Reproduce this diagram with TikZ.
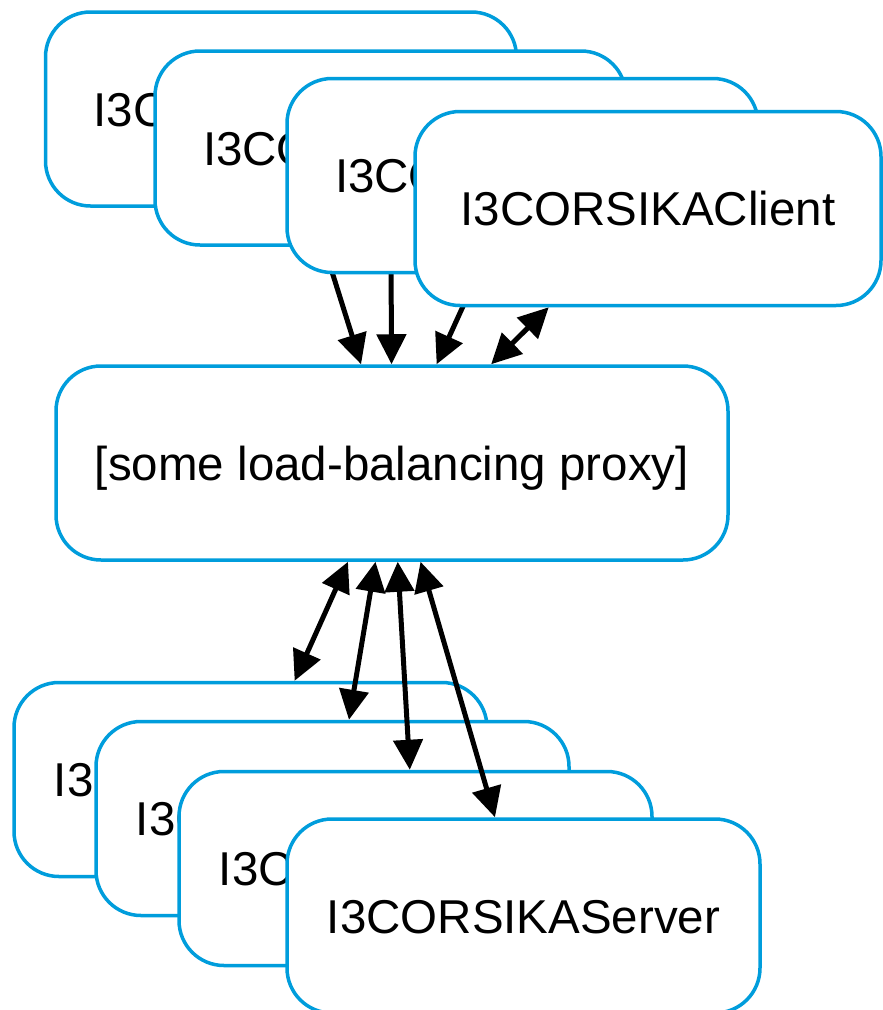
\documentclass[tikz,border=0pt]{standalone}
\usepackage{fontspec}
\setmainfont{Liberation Sans}
\usetikzlibrary{arrows.meta}
\pgfdeclarelayer{under}
\pgfsetlayers{under,main}
\definecolor{boxblue}{RGB}{0,157,220}
\begin{document}
\begin{tikzpicture}[x=1pt,y=-1pt,
  box/.style={draw=boxblue, line width=3.5pt, fill=white, rounded corners=45pt,
    minimum width=471pt, minimum height=194pt, inner sep=0pt,
    text height=34pt, text depth=0pt, font=\fontsize{47.5}{57}\selectfont},
  link/.style={line width=5pt, -{Triangle[length=30pt,width=29pt]}},
  duplex/.style={line width=5pt, {Triangle[length=30pt,width=29pt]}-{Triangle[length=30pt,width=29pt]}}]
\useasboundingbox (0,0) rectangle (883,1010);

% proxy in the middle
\node[box, minimum width=672pt] (proxy) at (392,463) {[some load-balancing proxy]};

% stack of clients, back to front
\node[box] (c1) at (281,109)   {I3CORSIKAClient};
\node[box] (c2) at (390.5,148) {I3CORSIKAClient};
\node[box] (c3) at (522.5,175.5) {I3CORSIKAClient};
\node[box, minimum width=466pt] (c4) at (648,208.5) {I3CORSIKAClient};

% stack of servers, back to front
\node[box, minimum width=473pt] (s1) at (250.5,779.5) {I3CORSIKAServer};
\node[box, minimum width=473pt] (s2) at (332.5,818.5) {I3CORSIKAServer};
\node[box, minimum width=473pt] (s3) at (415.5,868.5) {I3CORSIKAServer};
\node[box, minimum width=473pt] (s4) at (523.5,916)   {I3CORSIKAServer};

% client connections run behind the client boxes
\begin{pgfonlayer}{under}
  \draw[link] (c1) -- (proxy);
  \draw[link] (c2) -- (proxy);
  \draw[link] (c3) -- (proxy);
  \draw[duplex] (c4) -- (proxy);
\end{pgfonlayer}

% server connections on top
\draw[duplex] (proxy) -- (s1);
\draw[duplex] (proxy) -- (s2);
\draw[duplex] (proxy) -- (s3);
\draw[duplex] (proxy) -- (s4);
\end{tikzpicture}
\end{document}
